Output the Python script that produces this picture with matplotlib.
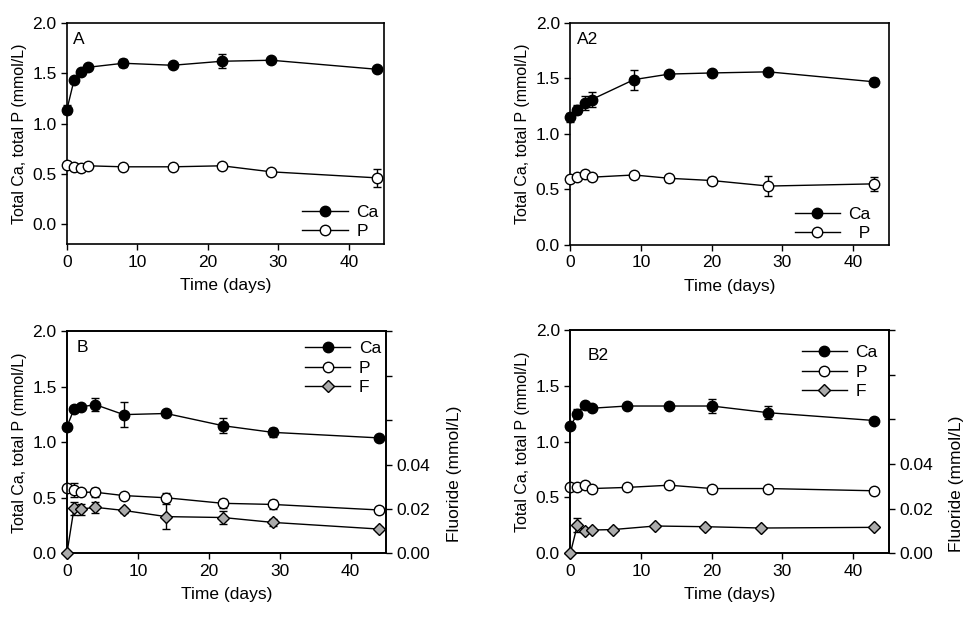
import matplotlib
matplotlib.use('Agg')
import matplotlib.pyplot as plt
import numpy as np

plt.rcParams['font.family'] = ['Liberation Sans', 'DejaVu Sans']
plt.rcParams['font.size'] = 12.5

# panel A
a_days = [0, 1, 2, 3, 8, 15, 22, 29, 44]
a_ca = [1.14, 1.43, 1.51, 1.56, 1.60, 1.58, 1.62, 1.63, 1.54]
a_ca_err = [0.04, 0.02, 0.02, 0.02, 0.04, 0.02, 0.07, 0.02, 0.02]
a_p = [0.59, 0.57, 0.56, 0.58, 0.57, 0.57, 0.58, 0.52, 0.46]
a_p_err = [0.01, 0.01, 0.01, 0.01, 0.01, 0.01, 0.01, 0.01, 0.09]

# panel A2
a2_days = [0, 1, 2, 3, 9, 14, 20, 28, 43]
a2_ca = [1.15, 1.22, 1.28, 1.31, 1.49, 1.54, 1.55, 1.56, 1.47]
a2_ca_err = [0.04, 0.04, 0.06, 0.07, 0.09, 0.02, 0.02, 0.02, 0.03]
a2_p = [0.59, 0.61, 0.64, 0.61, 0.63, 0.60, 0.58, 0.53, 0.55]
a2_p_err = [0.01, 0.01, 0.01, 0.01, 0.03, 0.03, 0.03, 0.09, 0.06]

# panel B
b_days = [0, 1, 2, 4, 8, 14, 22, 29, 44]
b_ca = [1.14, 1.30, 1.32, 1.34, 1.25, 1.26, 1.15, 1.09, 1.04]
b_ca_err = [0.03, 0.02, 0.02, 0.06, 0.11, 0.02, 0.07, 0.04, 0.02]
b_p = [0.59, 0.57, 0.55, 0.55, 0.52, 0.50, 0.45, 0.44, 0.39]
b_p_err = [0.01, 0.06, 0.02, 0.04, 0.02, 0.04, 0.04, 0.04, 0.03]
b_f = [0.0, 0.0203, 0.0199, 0.0207, 0.0193, 0.0165, 0.0161, 0.0139, 0.0109]
b_f_err = [0.0, 0.003, 0.0025, 0.0025, 0.001, 0.0055, 0.003, 0.0015, 0.001]

# panel B2
b2_days = [0, 1, 2, 3, 8, 14, 20, 28, 43]
b2_ca = [1.14, 1.25, 1.33, 1.30, 1.32, 1.32, 1.32, 1.26, 1.19]
b2_ca_err = [0.03, 0.04, 0.02, 0.02, 0.02, 0.02, 0.06, 0.06, 0.02]
b2_p = [0.59, 0.59, 0.61, 0.58, 0.59, 0.61, 0.58, 0.58, 0.56]
b2_p_err = [0.01, 0.01, 0.01, 0.01, 0.01, 0.01, 0.01, 0.01, 0.01]
b2_f_days = [0, 1, 2, 3, 6, 12, 19, 27, 43]
b2_f = [0.0, 0.0127, 0.0101, 0.0104, 0.0106, 0.0122, 0.0119, 0.0113, 0.0116]
b2_f_err = [0.0, 0.003, 0.0005, 0.0005, 0.0005, 0.0005, 0.0005, 0.0005, 0.0005]

GRAY = '#ababab'
FS = 12.5


def series(ax, x, y, err, mfc, marker='o', ms=7.5, label=None):
    ax.errorbar(x, y, yerr=err, fmt='none', ecolor='black', elinewidth=1,
                capsize=3, capthick=1, clip_on=False, zorder=2)
    line, = ax.plot(x, y, '-', color='black', lw=1, marker=marker, ms=ms,
                    mfc=mfc, mec='black', mew=1, clip_on=False, zorder=3,
                    label=label)
    return line


def setup(ax, ylim, letter, letter_pos):
    ax.set_xlim(0, 45)
    ax.set_ylim(*ylim)
    ax.set_xticks([0, 10, 20, 30, 40])
    ax.set_yticks([0.0, 0.5, 1.0, 1.5, 2.0])
    ax.yaxis.set_major_formatter(matplotlib.ticker.FormatStrFormatter('%.1f'))
    ax.tick_params(direction='out', length=4, width=1, top=False, right=False,
                   labelsize=FS)
    for s in ax.spines.values():
        s.set_linewidth(1.2)
    ax.set_xlabel('Time (days)', fontsize=FS, labelpad=6)
    ax.set_ylabel('Total Ca, total P (mmol/L)', fontsize=11.5, labelpad=4)
    ax.text(letter_pos[0], letter_pos[1], letter, transform=ax.transAxes,
            fontsize=FS, va='top', ha='left')


def legend(ax, handles, loc, anchor):
    ax.legend(handles=handles, loc=loc, bbox_to_anchor=anchor, frameon=False,
              fontsize=FS, handlelength=2.6, handletextpad=0.5,
              labelspacing=0.25, borderaxespad=0)


fig = plt.figure(figsize=(9.7, 6.23), dpi=100)

axA = fig.add_axes([0.069, 0.608, 0.327, 0.355])
axA2 = fig.add_axes([0.588, 0.607, 0.328, 0.356])
axB = fig.add_axes([0.069, 0.112, 0.329, 0.356])
axB2 = fig.add_axes([0.588, 0.112, 0.328, 0.358])

# A
h1 = series(axA, a_days, a_ca, a_ca_err, 'black', label='Ca')
h2 = series(axA, a_days, a_p, a_p_err, 'white', label='P')
setup(axA, (-0.2, 2.0), 'A', (0.02, 0.96))
legend(axA, [h1, h2], 'lower right', (1.004, -0.01))

# A2
h1 = series(axA2, a2_days, a2_ca, a2_ca_err, 'black', label='Ca')
h2 = series(axA2, a2_days, a2_p, a2_p_err, 'white', label='  P')
setup(axA2, (0.0, 2.0), 'A2', (0.02, 0.96))
legend(axA2, [h1, h2], 'lower right', (0.966, -0.015))

# B and B2 with fluoride on right axis
for ax, days, ca, ca_err, p, p_err, fd, f, f_err, letter, lpos, fy, anc in [
        (axB, b_days, b_ca, b_ca_err, b_p, b_p_err, b_days, b_f, b_f_err,
         'B', (0.03, 0.96), 0.36, (1.007, 0.988)),
        (axB2, b2_days, b2_ca, b2_ca_err, b2_p, b2_p_err, b2_f_days, b2_f,
         b2_f_err, 'B2', (0.055, 0.92), 0.31, (0.988, 0.965))]:
    h1 = series(ax, days, ca, ca_err, 'black', label='Ca')
    h2 = series(ax, days, p, p_err, 'white', label='P')
    setup(ax, (0.0, 2.0), letter, lpos)
    ax2 = ax.twinx()
    h3 = series(ax2, fd, f, f_err, GRAY, marker='D', ms=6.5, label='F')
    ax2.set_ylim(0, 0.1)
    ax2.set_yticks([0.0, 0.02, 0.04, 0.06, 0.08, 0.10])
    ax2.set_yticklabels(['0.00', '0.02', '0.04', '', '', ''])
    ax2.tick_params(direction='out', length=4, width=1, labelsize=FS)
    for s in ax2.spines.values():
        s.set_linewidth(1.2)
    ax2.set_ylabel('Fluoride (mmol/L)', fontsize=FS)
    ax2.yaxis.set_label_coords(1.19, fy)
    legend(ax2, [h1, h2, h3], 'upper right', anc)

fig.savefig('out.png', dpi=100)
